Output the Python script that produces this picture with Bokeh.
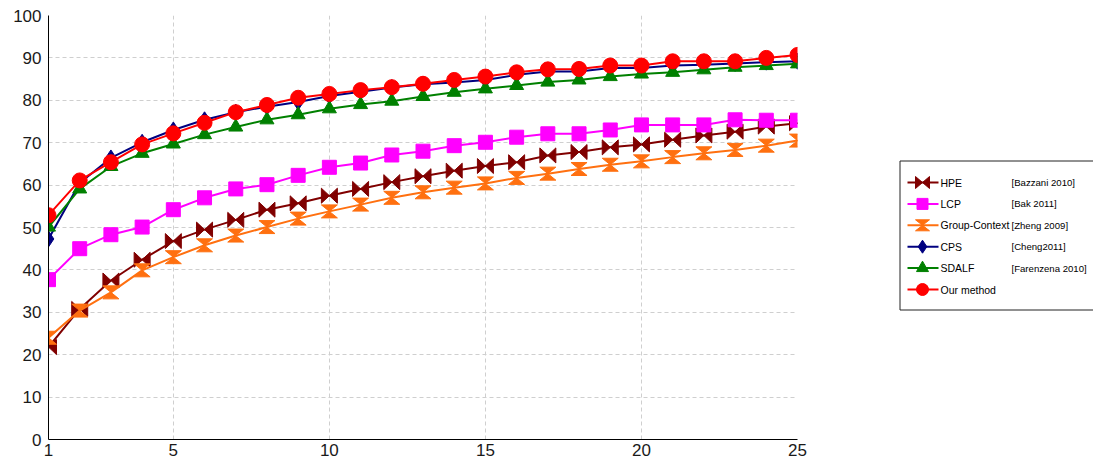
from bokeh.plotting import figure
from bokeh.layouts import row
from bokeh.models import FixedTicker, Range1d
from bokeh.core.properties import value
from bokeh.embed import file_html
from bokeh.resources import INLINE

# ---------------- data ----------------
ranks = list(range(1, 26))
hpe = [21.8, 30.8, 37.5, 42.4, 46.8, 49.5, 51.8, 54.2, 55.7, 57.5, 59.1, 60.7, 62.1,
       63.4, 64.5, 65.4, 67.0, 67.8, 68.9, 69.6, 70.7, 71.7, 72.6, 73.8, 74.6]
lcp = [37.7, 45.0, 48.3, 50.1, 54.2, 57.0, 59.1, 60.1, 62.3, 64.2, 65.2, 67.1, 68.0,
       69.3, 70.1, 71.3, 72.1, 72.1, 73.0, 74.2, 74.2, 74.2, 75.4, 75.3, 75.3]
group_context = [24.0, 30.4, 34.7, 39.9, 43.0, 45.8, 48.1, 50.1, 52.1, 53.8, 55.4, 57.0, 58.3,
                 59.4, 60.4, 61.7, 62.7, 63.8, 64.8, 65.6, 66.6, 67.5, 68.3, 69.3, 70.5]
cps = [47.3, 60.5, 66.4, 70.1, 73.0, 75.4, 77.2, 78.5, 79.6, 81.0, 82.0, 83.0, 83.8,
       84.2, 84.8, 86.0, 86.8, 86.8, 87.6, 87.6, 88.2, 88.4, 88.7, 89.0, 89.2]
sdalf = [50.1, 59.1, 64.4, 67.5, 69.7, 71.9, 73.7, 75.4, 76.6, 78.0, 79.0, 79.8, 80.9,
         81.9, 82.7, 83.5, 84.3, 84.8, 85.6, 86.2, 86.6, 87.2, 87.8, 88.2, 88.6]
ours = [52.9, 61.1, 65.4, 69.6, 72.2, 74.7, 77.2, 78.9, 80.6, 81.5, 82.4, 83.1, 83.9,
        84.8, 85.6, 86.6, 87.3, 87.4, 88.2, 88.2, 89.2, 89.2, 89.2, 90.0, 90.7]

names = ["HPE", "LCP", "Group-Context", "CPS", "SDALF", "Our method"]
citations = ["[Bazzani 2010]", "[Bak 2011]", "[Zheng 2009]", "[Cheng2011]", "[Farenzena 2010]", ""]
series = [hpe, lcp, group_context, cps, sdalf, ours]

x_ticks = [1, 5, 10, 15, 20, 25]
y_ticks = [0, 10, 20, 30, 40, 50, 60, 70, 80, 90, 100]

# ---------------- styles ----------------
colors = ["#800000", "#ff00ff", "#ff7010", "#000080", "#008000", "#ff0000"]
markers = ["bowtie", "square", "hourglass", "diamond", "triangle", "circle"]
sizes = [0, 14, 0, 16, 14, 15]
legend_sizes = [0, 11, 0, 13, 12, 12]

FONT = "Liberation Sans"

FW, FH = 749, 424
XMIN, XMAX, YMIN, YMAX = 1, 25, 0, 100
W1 = 888          # width of the chart canvas
H = 463
TOP = 15
BOTTOM = H - TOP - FH

p = figure(frame_width=FW, frame_height=FH,
           x_range=Range1d(XMIN, XMAX), y_range=Range1d(YMIN, YMAX),
           output_backend="svg", toolbar_location=None, title_location=None,
           min_border_left=48, min_border_right=W1 - 48 - FW,
           min_border_top=TOP, min_border_bottom=BOTTOM)
p.outline_line_color = None
p.background_fill_color = "white"
p.border_fill_color = "white"

p.xaxis.ticker = FixedTicker(ticks=x_ticks)
p.yaxis.ticker = FixedTicker(ticks=y_ticks)
for ax in (p.xaxis[0], p.yaxis[0]):
    ax.axis_line_color = "black"
    ax.axis_line_width = 1
    ax.major_tick_in = 0
    ax.major_tick_out = 0
    ax.minor_tick_line_color = None
    ax.major_label_text_font = FONT
    ax.major_label_text_font_size = "17px"
    ax.major_label_text_color = "#1a1a1a"
p.xaxis.major_label_standoff = 4
p.yaxis.major_label_standoff = 7

for g in (p.xgrid[0], p.ygrid[0]):
    g.grid_line_color = "#cfcfcf"
    g.grid_line_dash = "4 3"
    g.grid_line_width = 1

px_x = FW / (XMAX - XMIN)   # pixels per data unit
px_y = FH / (YMAX - YMIN)


def bowtie_shapes(xv, yv, w_px, h_px):
    w, h = w_px / px_x, h_px / px_y
    xs = [[x - w, x - w, x + w, x + w] for x in xv]
    ys = [[y - h, y + h, y - h, y + h] for y in yv]
    return xs, ys


def hourglass_shapes(xv, yv, w_px, h_px):
    w, h = w_px / px_x, h_px / px_y
    xs = [[x - w, x + w, x - w, x + w] for x in xv]
    ys = [[y + h, y + h, y - h, y - h] for y in yv]
    return xs, ys


for vals, col, mk, sz in zip(series, colors, markers, sizes):
    p.line(ranks, vals, line_color=col, line_width=2)
    if mk == "bowtie":
        xs, ys = bowtie_shapes(ranks, vals, 8, 7.5)
        p.patches(xs, ys, fill_color=col, line_color=col, line_width=1)
    elif mk == "hourglass":
        xs, ys = hourglass_shapes(ranks, vals, 8, 6.5)
        p.patches(xs, ys, fill_color=col, line_color=col, line_width=1)
    else:
        p.scatter(ranks, vals, marker=mk, size=sz, fill_color=col, line_color=col, line_width=1)

# ---------------- legend panel (same vertical structure as the chart) ----------------
LW = 1093 - W1
lg = figure(frame_width=LW, frame_height=FH,
            x_range=Range1d(0, LW), y_range=Range1d(TOP + FH, TOP),
            output_backend="svg", toolbar_location=None, title_location=None,
            x_axis_type=None, y_axis_type=None,
            min_border_left=0, min_border_right=0,
            min_border_top=TOP, min_border_bottom=BOTTOM)
lg.outline_line_color = None
lg.xgrid.visible = False
lg.ygrid.visible = False
lg.background_fill_color = "white"
lg.border_fill_color = "white"

lg.quad(left=[11.5], right=[LW + 5], top=[160.5], bottom=[309.5],
        fill_color="white", line_color="#222222", line_width=1)

row_y = [182 + i * 21.4 for i in range(len(names))]
for i, (col, mk, sz) in enumerate(zip(colors, markers, legend_sizes)):
    yy = row_y[i]
    lg.line([19, 50], [yy, yy], line_color=col, line_width=2)
    if mk == "bowtie":
        lg.patches([[27, 27, 41, 41]], [[yy - 6, yy + 6, yy - 6, yy + 6]],
                   fill_color=col, line_color=col)
    elif mk == "hourglass":
        lg.patches([[27, 41, 27, 41]], [[yy - 5.5, yy - 5.5, yy + 5.5, yy + 5.5]],
                   fill_color=col, line_color=col)
    else:
        lg.scatter([34], [yy], marker=mk, size=sz, fill_color=col, line_color=col)

lg.text([52] * len(names), row_y, text=names, text_font=value(FONT),
        text_font_size="10.5px", text_baseline="middle", text_align="left", text_color="black")
lg.text([123] * len(citations), row_y, text=citations, text_font=value(FONT),
        text_font_size="9.6px", text_baseline="middle", text_align="left", text_color="black")

layout = row(p, lg, spacing=0)
open("out.html", "w").write(file_html(layout, INLINE))
